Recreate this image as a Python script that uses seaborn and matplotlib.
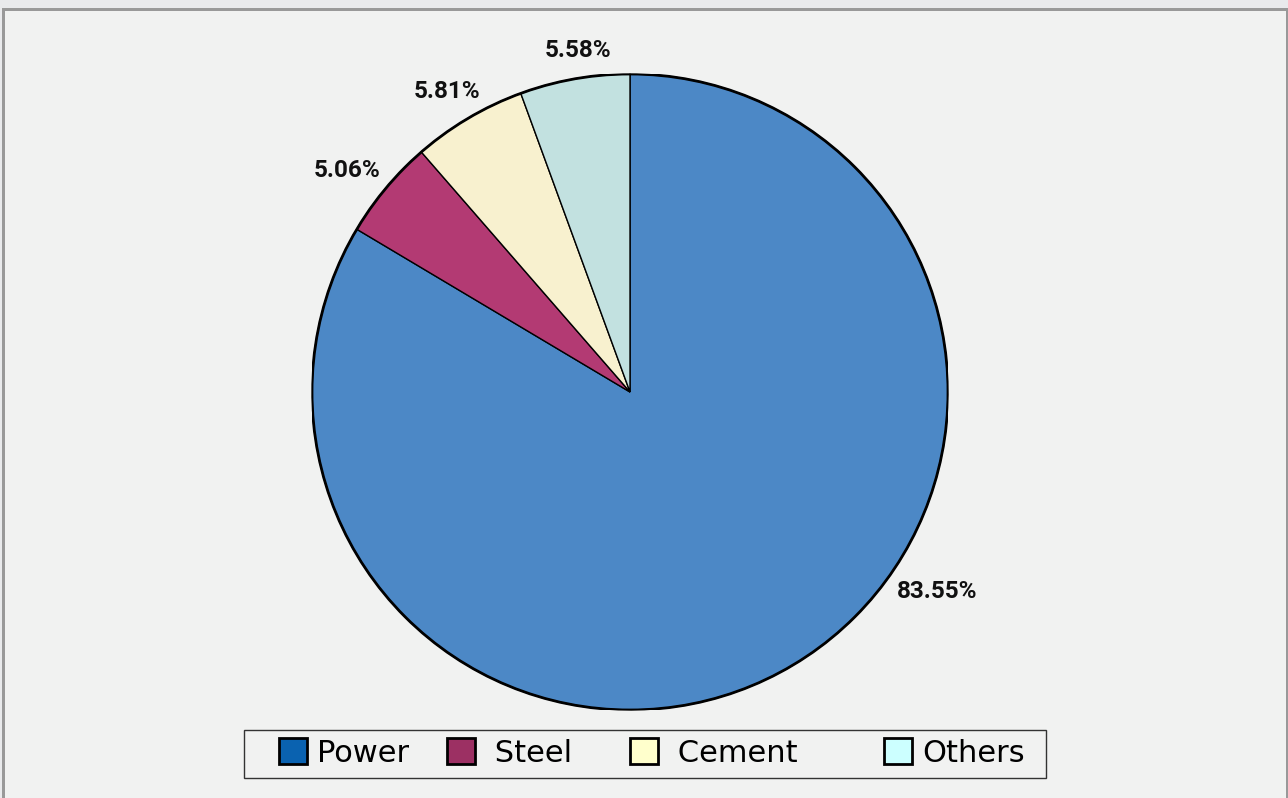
import matplotlib
matplotlib.use("Agg")
import matplotlib.pyplot as plt
import matplotlib.patches as mpatches
import numpy as np
import seaborn as sns

# Share of consumption by sector
categories = ["Power", "Steel", "Cement", "Others"]
shares = [83.55, 5.06, 5.81, 5.58]

wedge_colors = ["#4C88C6", "#B33A73", "#F8F1CF", "#C2E1E0"]
legend_colors = ["#0A62B0", "#9C3063", "#FFFFCC", "#CCFFFF"]

sns.set_theme(style="white")
plt.rcParams["font.family"] = ["DejaVu Sans"]

BG = "#F1F2F1"
W, H = 1288, 798
fig = plt.figure(figsize=(W / 100, H / 100), dpi=100, facecolor=BG)


def px_rect(x, y, w, h, **kw):
    """Rectangle given in pixel coordinates measured from the top-left corner."""
    return mpatches.Rectangle((x / W, 1 - (y + h) / H), w / W, h / H,
                              transform=fig.transFigure, **kw)


# outer frame: light strip on top, grey border on left / top / right
fig.patches.append(px_rect(0, 0, W, 8, facecolor="#E9EAEC", edgecolor="none", zorder=0))
fig.patches.append(px_rect(0, 0, 2, H, facecolor="#E9EAEC", edgecolor="none", zorder=0))
fig.patches.append(px_rect(2, 8, 3, H - 8, facecolor="#999999", edgecolor="none", zorder=1))
fig.patches.append(px_rect(2, 8, W - 4, 3, facecolor="#999999", edgecolor="none", zorder=1))
fig.patches.append(px_rect(W - 2, 8, 2, H - 8, facecolor="#999999", edgecolor="none", zorder=1))

# pie axes: centre (630, 392) px, radius 318 px
cx, cy, r = 630, 392, 318
ax = fig.add_axes([(cx - r) / W, (H - cy - r) / H, 2 * r / W, 2 * r / H])
ax.set_facecolor("none")

wedges, _ = ax.pie(shares, colors=wedge_colors, startangle=90, counterclock=False,
                   radius=1.0, wedgeprops=dict(edgecolor="black", linewidth=1.0))
ax.add_patch(mpatches.Circle((0, 0), 1.0, facecolor="none", edgecolor="black", linewidth=2.0))
ax.set_xlim(-1, 1)
ax.set_ylim(-1, 1)
ax.set_aspect("equal")
ax.axis("off")

# value labels around the pie (angle in degrees, distance from centre in radii)
label_angle = [-33.0, 142.0, 121.4, 98.6]
label_dist = [1.15, 1.13, 1.106, 1.085]
for i, val in enumerate(shares):
    a = np.deg2rad(label_angle[i])
    ax.text(label_dist[i] * np.cos(a), label_dist[i] * np.sin(a), f"{val:.2f}%",
            ha="center", va="center", fontsize=17.5, color="#111111",
            family="Roboto", fontweight="bold")

# legend box
fig.patches.append(px_rect(244, 730, 802, 48, facecolor=BG, edgecolor="#333333",
                           linewidth=1.0, zorder=2))
handles = [mpatches.Patch(facecolor=c, edgecolor="black", linewidth=2) for c in legend_colors]
labels = ["Power", " Steel  ", " Cement     ", "Others"]
leg = fig.legend(handles, labels, loc="center left", ncol=4,
                 bbox_to_anchor=(279 / W, 1 - 753 / H), frameon=False,
                 fontsize=22, handlelength=0.915, handleheight=0.915, handletextpad=0.33,
                 columnspacing=1.24, borderpad=0.0, borderaxespad=0.0, labelcolor="black")
leg.set_zorder(3)

fig.savefig("out.png", dpi=100, facecolor=BG)
